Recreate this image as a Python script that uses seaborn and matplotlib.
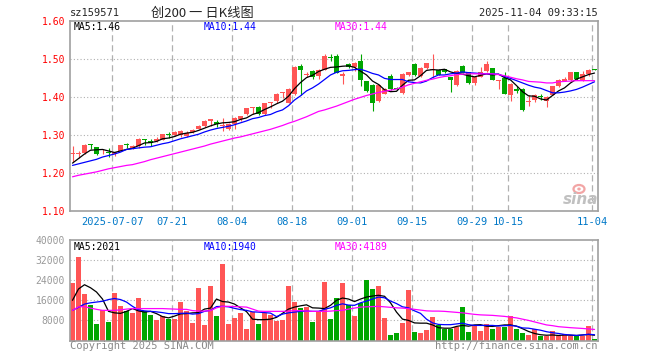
import numpy as np
import pandas as pd
import matplotlib
matplotlib.use("Agg")
import matplotlib.pyplot as plt
from matplotlib.patches import Ellipse
import seaborn as sns

# ---------------- data ----------------
open_ = np.array([
    1.250, 1.249, 1.253, 1.275, 1.268, 1.257, 1.256, 1.251, 1.259, 1.275,
    1.266, 1.271, 1.289, 1.283, 1.284, 1.288, 1.303, 1.300, 1.300, 1.297,
    1.308, 1.317, 1.324, 1.338, 1.333, 1.324, 1.315, 1.328, 1.341, 1.355,
    1.372, 1.374, 1.355, 1.384, 1.389, 1.410, 1.385, 1.407, 1.481, 1.458,
    1.468, 1.455, 1.472, 1.506, 1.509, 1.455, 1.488, 1.479, 1.496, 1.441,
    1.432, 1.389, 1.409, 1.455, 1.424, 1.411, 1.459, 1.488, 1.455, 1.477,
    1.470, 1.472, 1.473, 1.452, 1.431, 1.481, 1.465, 1.437, 1.453, 1.468,
    1.475, 1.443, 1.449, 1.406, 1.422, 1.420, 1.386, 1.391, 1.402, 1.389,
    1.406, 1.428, 1.443, 1.445, 1.465, 1.444, 1.461, 1.472])
high = np.array([
    1.270, 1.259, 1.276, 1.276, 1.269, 1.262, 1.267, 1.256, 1.275, 1.280,
    1.273, 1.293, 1.289, 1.290, 1.294, 1.303, 1.309, 1.311, 1.312, 1.311,
    1.316, 1.327, 1.339, 1.342, 1.339, 1.345, 1.331, 1.348, 1.351, 1.371,
    1.375, 1.376, 1.385, 1.387, 1.410, 1.413, 1.424, 1.481, 1.486, 1.467,
    1.470, 1.474, 1.512, 1.512, 1.512, 1.466, 1.490, 1.492, 1.514, 1.443,
    1.434, 1.434, 1.423, 1.461, 1.426, 1.462, 1.467, 1.489, 1.478, 1.490,
    1.514, 1.474, 1.475, 1.453, 1.471, 1.483, 1.467, 1.455, 1.478, 1.496,
    1.477, 1.446, 1.466, 1.437, 1.428, 1.425, 1.404, 1.407, 1.409, 1.402,
    1.430, 1.448, 1.452, 1.467, 1.466, 1.468, 1.473, 1.473])
low = np.array([
    1.228, 1.240, 1.250, 1.262, 1.247, 1.249, 1.242, 1.245, 1.258, 1.265,
    1.264, 1.267, 1.274, 1.270, 1.282, 1.287, 1.293, 1.298, 1.296, 1.295,
    1.306, 1.315, 1.322, 1.324, 1.320, 1.311, 1.312, 1.315, 1.338, 1.353,
    1.356, 1.352, 1.352, 1.370, 1.385, 1.397, 1.383, 1.405, 1.406, 1.452,
    1.448, 1.447, 1.470, 1.494, 1.463, 1.435, 1.476, 1.468, 1.428, 1.412,
    1.362, 1.386, 1.407, 1.418, 1.418, 1.409, 1.456, 1.455, 1.452, 1.475,
    1.449, 1.458, 1.464, 1.414, 1.428, 1.462, 1.434, 1.432, 1.452, 1.466,
    1.444, 1.421, 1.407, 1.390, 1.410, 1.364, 1.376, 1.388, 1.391, 1.373,
    1.404, 1.426, 1.442, 1.443, 1.446, 1.442, 1.454, 1.470])
close = np.array([
    1.253, 1.253, 1.275, 1.274, 1.251, 1.259, 1.252, 1.254, 1.273, 1.273,
    1.271, 1.289, 1.287, 1.280, 1.290, 1.302, 1.301, 1.309, 1.310, 1.304,
    1.312, 1.325, 1.337, 1.341, 1.330, 1.327, 1.330, 1.346, 1.350, 1.370,
    1.374, 1.355, 1.384, 1.386, 1.409, 1.412, 1.421, 1.480, 1.470, 1.461,
    1.452, 1.472, 1.508, 1.503, 1.464, 1.461, 1.479, 1.489, 1.444, 1.415,
    1.383, 1.432, 1.421, 1.421, 1.420, 1.461, 1.465, 1.457, 1.476, 1.489,
    1.474, 1.459, 1.466, 1.444, 1.469, 1.463, 1.436, 1.453, 1.466, 1.488,
    1.446, 1.445, 1.409, 1.435, 1.415, 1.367, 1.389, 1.404, 1.400, 1.400,
    1.428, 1.446, 1.448, 1.465, 1.448, 1.460, 1.472, 1.471])

ma5 = [
    1.226, 1.238, 1.250, 1.260, 1.261, 1.262, 1.258, 1.254, 1.258, 1.262,
    1.265, 1.272, 1.279, 1.280, 1.283, 1.290, 1.292, 1.296, 1.302, 1.305,
    1.307, 1.312, 1.318, 1.324, 1.329, 1.332, 1.333, 1.335, 1.341, 1.345,
    1.354, 1.359, 1.367, 1.374, 1.382, 1.389, 1.402, 1.422, 1.438, 1.451,
    1.457, 1.467, 1.473, 1.478, 1.479, 1.481, 1.482, 1.478, 1.468, 1.458,
    1.442, 1.433, 1.419, 1.414, 1.415, 1.431, 1.444, 1.445, 1.456, 1.470,
    1.472, 1.471, 1.473, 1.466, 1.462, 1.460, 1.456, 1.453, 1.457, 1.461,
    1.458, 1.460, 1.451, 1.445, 1.430, 1.414, 1.403, 1.402, 1.395, 1.392,
    1.404, 1.416, 1.424, 1.437, 1.447, 1.453, 1.459, 1.463]
ma10 = [
    1.220, 1.224, 1.228, 1.232, 1.236, 1.242, 1.246, 1.250, 1.255, 1.262,
    1.264, 1.266, 1.268, 1.269, 1.273, 1.277, 1.280, 1.285, 1.290, 1.294,
    1.298, 1.302, 1.308, 1.313, 1.317, 1.320, 1.323, 1.327, 1.332, 1.337,
    1.343, 1.346, 1.351, 1.354, 1.361, 1.366, 1.377, 1.392, 1.403, 1.416,
    1.424, 1.434, 1.446, 1.458, 1.465, 1.469, 1.470, 1.472, 1.473, 1.468,
    1.462, 1.458, 1.449, 1.446, 1.446, 1.446, 1.440, 1.438, 1.437, 1.442,
    1.451, 1.458, 1.458, 1.461, 1.463, 1.466, 1.464, 1.463, 1.462, 1.461,
    1.461, 1.460, 1.454, 1.449, 1.443, 1.437, 1.431, 1.426, 1.423, 1.417,
    1.411, 1.411, 1.413, 1.416, 1.420, 1.426, 1.433, 1.440]
ma30 = [
    1.190, 1.194, 1.197, 1.200, 1.203, 1.207, 1.211, 1.214, 1.217, 1.220,
    1.222, 1.226, 1.230, 1.235, 1.239, 1.243, 1.247, 1.251, 1.255, 1.259,
    1.263, 1.267, 1.271, 1.276, 1.280, 1.284, 1.288, 1.292, 1.295, 1.299,
    1.303, 1.307, 1.311, 1.315, 1.320, 1.325, 1.331, 1.336, 1.342, 1.348,
    1.355, 1.362, 1.366, 1.371, 1.376, 1.382, 1.388, 1.394, 1.399, 1.404,
    1.408, 1.412, 1.415, 1.418, 1.421, 1.426, 1.432, 1.436, 1.440, 1.444,
    1.447, 1.451, 1.454, 1.456, 1.459, 1.460, 1.461, 1.461, 1.461, 1.461,
    1.461, 1.459, 1.456, 1.452, 1.448, 1.445, 1.441, 1.440, 1.439, 1.437,
    1.437, 1.440, 1.441, 1.442, 1.443, 1.443, 1.443, 1.443]

volume = [
    23000, 33300, 18400, 14000, 6500, 12000, 7300, 18900, 13900, 11600,
    10900, 16900, 11700, 10000, 8000, 9700, 8400, 8400, 15200, 11600,
    6900, 20900, 6100, 21600, 9600, 30400, 6500, 8800, 10800, 4400,
    11200, 6400, 10900, 10100, 7700, 8300, 21600, 15200, 12900, 13300,
    7200, 11600, 23200, 8400, 16900, 22900, 14300, 9700, 15100, 24000,
    20500, 21600, 8900, 2100, 2900, 6900, 20100, 3300, 2900, 4100,
    9200, 6300, 4700, 4700, 5300, 13200, 3300, 5700, 3600, 6500,
    4400, 5200, 5300, 9600, 4700, 2900, 2000, 4700, 1600, 1600,
    3600, 1600, 2400, 1600, 1600, 1600, 5600, 400]
vol_ma5 = [
    16000, 20500, 22200, 21000, 19300, 16500, 11600, 11000, 10800, 11600,
    12700, 11800, 11300, 11600, 10700, 9500, 9000, 9700, 10600, 10700,
    11000, 11100, 12500, 12900, 16500, 15500, 15300, 14500, 13000, 11500,
    8500, 8300, 8300, 8500, 9200, 10800, 12500, 13300, 13800, 14200,
    13000, 12900, 12700, 14000, 16000, 16900, 16500, 15500, 16500, 17300,
    17700, 18000, 17600, 15000, 11300, 8500, 8000, 7000, 6900, 6900,
    6200, 5100, 4900, 4900, 5600, 6000, 5700, 6200, 6300, 5700,
    5600, 5900, 6200, 6200, 5700, 4700, 3600, 2800, 2300, 2100,
    2200, 2000, 2200, 2100, 2000, 2200, 2400, 2100]
vol_ma10 = [
    12000, 13200, 14500, 15000, 15300, 15600, 16300, 16700, 16300, 15300,
    13600, 12200, 11800, 11600, 11400, 11100, 10700, 10700, 10800, 10900,
    10500, 10700, 11600, 12000, 13500, 13600, 13400, 12800, 12300, 12000,
    11400, 11300, 11100, 10900, 9500, 10500, 11000, 11300, 11600, 11700,
    11600, 11600, 12400, 13000, 14000, 14600, 14100, 14000, 15000, 15700,
    16500, 17300, 17000, 15700, 14700, 13400, 13000, 11800, 10800, 8500,
    7000, 6400, 6300, 6300, 6600, 6900, 6300, 6000, 6000, 6000,
    6000, 5800, 5900, 6000, 5700, 5000, 4900, 4500, 4100, 3500,
    3100, 2800, 2400, 2200, 2000, 2200, 2500, 2300]
vol_ma30 = [
    12000, 13400, 13500, 12900, 12400, 12000, 12000, 12000, 12200, 12500,
    12700, 12700, 12700, 12700, 12700, 12700, 12600, 12500, 12400, 12400,
    11900, 11700, 11700, 11900, 13000, 13600, 13600, 13500, 13400, 13300,
    12500, 11700, 11600, 11600, 11600, 11600, 11700, 11900, 11900, 11700,
    11600, 11600, 11600, 11700, 11900, 12000, 12500, 12900, 13300, 13400,
    13500, 13600, 13400, 13200, 13000, 12900, 12700, 12400, 12100, 11800,
    11700, 11700, 11600, 11400, 11200, 11000, 10700, 10400, 10200, 10100,
    10000, 9800, 9600, 9300, 9000, 8500, 8000, 7400, 6800, 6200,
    5900, 5500, 5300, 5100, 4950, 4800, 4600, 4400]

tick_idx = [7, 17, 27, 37, 47, 57, 67, 73, 87]
tick_labels = ["2025-07-07", "07-21", "08-04", "08-18", "09-01",
               "09-15", "09-29", "10-15", "11-04"]
price_ticks = [1.10, 1.20, 1.30, 1.40, 1.50, 1.60]
vol_ticks = [8000, 16000, 24000, 32000, 40000]

# ---------------- style ----------------
sns.set_style("white")
plt.rcParams['font.family'] = ['DejaVu Sans Mono']

RED = '#ff5555'
GREEN = '#00a600'
FRAME = '#a0a0a0'
GRID = '#b0b0b0'

idx = np.arange(len(close))
up = close >= open_
colors = np.where(up, RED, GREEN)

W, H = 660, 360
fig = plt.figure(figsize=(6.6, 3.6), dpi=100)


def fx(x):
    return x / W


def fy(y):
    return 1 - y / H


ax = fig.add_axes([fx(70), fy(211), 528 / W, 190 / H])
axv = fig.add_axes([fx(70), fy(340.5), 528 / W, 100.5 / H])

xlim = (-0.4167, 87.58)
vx = [t - 0.4 for t in tick_idx]

# ---------------- price panel ----------------
for v in price_ticks[1:-1]:
    ax.axhline(v, color=GRID, lw=0.8, ls=(0, (1, 2)), zorder=0)
for x in vx:
    ax.axvline(x, color=GRID, lw=0.9, ls=(0, (5, 3)), zorder=0)

ax.vlines(idx, low, high, colors=colors, lw=0.8, zorder=2)
body = np.maximum(np.abs(close - open_), 0.0022)
ax.bar(idx, body, bottom=np.minimum(open_, close), width=0.82,
       color=colors, linewidth=0, zorder=2)

sns.lineplot(x=idx, y=ma5, color='black', lw=0.9, ax=ax, zorder=3)
sns.lineplot(x=idx, y=ma10, color='#0000ff', lw=0.9, ax=ax, zorder=3)
sns.lineplot(x=idx, y=ma30, color='#ff00ff', lw=0.9, ax=ax, zorder=3)

ax.set_xlim(*xlim)
ax.set_ylim(1.10, 1.60)
ax.set_yticks(price_ticks)
ax.set_yticklabels([f"{v:.2f}" for v in price_ticks])
ax.set_xticks(vx)
ax.set_xticklabels(tick_labels)
ax.tick_params(axis='y', length=0, pad=3.5, labelsize=7, labelcolor='red')
ax.tick_params(axis='x', length=0, pad=4, labelsize=7.5, labelcolor='#0078c8')
ax.set_xlabel("")
ax.set_ylabel("")

# ---------------- volume panel ----------------
vdf = pd.DataFrame({'k': idx, 'vol': volume,
                    'dir': np.where(up, 'up', 'down')})
for v in vol_ticks[:-1]:
    axv.axhline(v, color=GRID, lw=0.8, ls=(0, (1, 2)), zorder=0)
for x in vx:
    axv.axvline(x, color=GRID, lw=0.9, ls=(0, (5, 3)), zorder=0)

sns.barplot(data=vdf, x='k', y='vol', hue='dir',
            palette={'up': RED, 'down': GREEN}, native_scale=True,
            dodge=False, width=0.8, saturation=1, linewidth=0,
            legend=False, ax=axv, zorder=2)

sns.lineplot(x=idx, y=vol_ma5, color='black', lw=0.9, ax=axv, zorder=3)
sns.lineplot(x=idx, y=vol_ma10, color='#0000ff', lw=0.9, ax=axv, zorder=3)
sns.lineplot(x=idx, y=vol_ma30, color='#ff00ff', lw=0.9, ax=axv, zorder=3)

axv.set_xlim(*xlim)
axv.set_ylim(0, 40000)
axv.set_yticks(vol_ticks)
axv.set_yticklabels([str(v) for v in vol_ticks])
axv.set_xticks(vx)
axv.set_xticklabels([])
axv.tick_params(axis='y', length=0, pad=3.5, labelsize=7, labelcolor='#999999')
axv.tick_params(axis='x', length=0)
axv.set_xlabel("")
axv.set_ylabel("")

for a in (ax, axv):
    for s in a.spines.values():
        s.set_color(FRAME)
        s.set_linewidth(1.2)
        s.set_visible(True)

# ---------------- texts ----------------
fig.text(fx(70), fy(13), "sz159571", fontsize=7.5, va='center', ha='left')
fig.text(fx(151), fy(13), "创200 一 日K线图", fontsize=9.5, va='center',
         ha='left', family=['Noto Sans CJK SC', 'DejaVu Sans'])
fig.text(fx(598), fy(13), "2025-11-04 09:33:15", fontsize=7.5,
         va='center', ha='right')

fig.text(fx(74), fy(27), "MA5:1.46", fontsize=7, va='center', color='black')
fig.text(fx(204), fy(27), "MA10:1.44", fontsize=7, va='center', color='#0000ff')
fig.text(fx(335), fy(27), "MA30:1.44", fontsize=7, va='center', color='#ff00ff')

fig.text(fx(74), fy(247), "MA5:2021", fontsize=7, va='center', color='black')
fig.text(fx(204), fy(247), "MA10:1940", fontsize=7, va='center', color='#0000ff')
fig.text(fx(335), fy(247), "MA30:4189", fontsize=7, va='center', color='#ff00ff')

fig.text(fx(70), fy(346), "Copyright 2025 SINA.COM", fontsize=7.5,
         va='center', ha='left', color='#8a8a8a')
fig.text(fx(598), fy(346), "http://finance.sina.com.cn", fontsize=7.5,
         va='center', ha='right', color='#8a8a8a')

# sina watermark: grey word plus a small red eye above it
fig.text(fx(598), fy(199), "sina", fontsize=11, fontweight='bold',
         style='italic', va='center', ha='right', color='#c0c0c0',
         family=['DejaVu Sans'])
fig.add_artist(Ellipse((fx(579), fy(189)), 11 / W, 8 / H,
                       transform=fig.transFigure, facecolor='none',
                       edgecolor='#f2a5a5', lw=1.6))
fig.add_artist(Ellipse((fx(579), fy(189)), 3.5 / W, 3 / H,
                       transform=fig.transFigure, facecolor='#f2a5a5',
                       edgecolor='none'))

fig.savefig("out.png", dpi=100)
